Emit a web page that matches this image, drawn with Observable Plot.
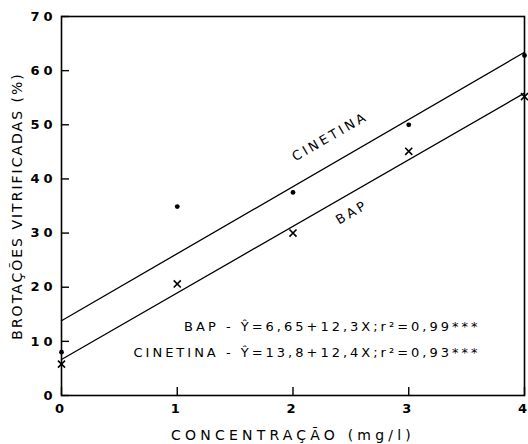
<!DOCTYPE html>
<html><head><meta charset="utf-8">
<script src="https://cdn.jsdelivr.net/npm/d3@7"></script>
<script src="https://cdn.jsdelivr.net/npm/@observablehq/plot@0.6"></script>
<style>
html,body{margin:0;padding:0;background:#fff}
#chart svg text{letter-spacing:3px}
#chart g[aria-label="x-axis tick label"] text,#chart g[aria-label="y-axis tick label"] text{letter-spacing:4px}
</style>
</head><body><div id="chart"></div>
<script>
// Data
const conc = [0, 1, 2, 3, 4];
const cinetina = [8, 34.9, 37.5, 50, 62.8];
const bap = [5.8, 20.6, 30, 45.1, 55.2];
const fitX = [0, 4];
const cinetinaFit = [13.8, 63.4];
const bapFit = [6.65, 55.85];
const xTicks = [0, 1, 2, 3, 4];
const yTicks = [0, 10, 20, 30, 40, 50, 60, 70];
const seriesLabels = ["CINETINA", "BAP"];
const equations = ["BAP - Ŷ=6,65+12,3X;r²=0,99***", "CINETINA - Ŷ=13,8+12,4X;r²=0,93***"];
const xTitle = "CONCENTRAÇÃO (mg/l)";
const yTitle = "BROTAÇÕES VITRIFICADAS (%)";

const cinData = conc.map((x, i) => ({x, y: cinetina[i]}));
const bapData = conc.map((x, i) => ({x, y: bap[i]}));
const cinLine = fitX.map((x, i) => ({x, y: cinetinaFit[i]}));
const bapLine = fitX.map((x, i) => ({x, y: bapFit[i]}));

const chart = Plot.plot({
  width: 528, height: 444,
  marginLeft: 61, marginRight: 4, marginTop: 16, marginBottom: 49,
  x: {domain: [0, 4]},
  y: {domain: [0, 70]},
  style: {fontFamily: "DejaVu Sans", fontSize: "13px", color: "#000", background: "#fff"},
  marks: [
    Plot.axisX({ticks: xTicks, tickSize: -8, tickPadding: 16, label: null, fontWeight: "bold", fontSize: 13, strokeWidth: 1.4, tickFormat: d => String(d)}),
    Plot.axisY({ticks: yTicks, tickSize: -8, tickPadding: 13, label: null, fontWeight: "bold", fontSize: 13, strokeWidth: 1.4, tickFormat: d => String(d)}),
    Plot.frame({stroke: "#000", strokeWidth: 1.6}),
    Plot.line(cinLine, {x: "x", y: "y", stroke: "#000", strokeWidth: 1.3}),
    Plot.line(bapLine, {x: "x", y: "y", stroke: "#000", strokeWidth: 1.3}),
    Plot.dot(cinData, {x: "x", y: "y", r: 2.4, fill: "#000", symbol: "circle"}),
    Plot.dot(bapData, {x: "x", y: "y", r: 3.3, stroke: "#000", strokeWidth: 1.6, symbol: "times"}),
    Plot.text(seriesLabels, {x: [2.32, 2.51], y: [47.8, 33.8], rotate: -30, fontSize: 13}),
    Plot.text(equations, {x: [3.62, 3.62], y: [12.7, 7.8], textAnchor: "end", fontSize: 13}),
    Plot.text([xTitle], {frameAnchor: "bottom", dy: 40, lineAnchor: "middle", textAnchor: "middle", fontSize: 14}),
    Plot.text([yTitle], {frameAnchor: "left", dx: -44, rotate: -90, textAnchor: "middle", lineAnchor: "middle", fontSize: 14})
  ]
});
document.getElementById("chart").appendChild(chart);
d3.select(chart).selectAll("text")
  .filter(function() { return this.textContent === yTitle; })
  .style("letter-spacing", "2px");
d3.select(chart).selectAll("text")
  .filter(function() { return this.textContent === xTitle; })
  .style("letter-spacing", "4.2px");
</script>
</body></html>
